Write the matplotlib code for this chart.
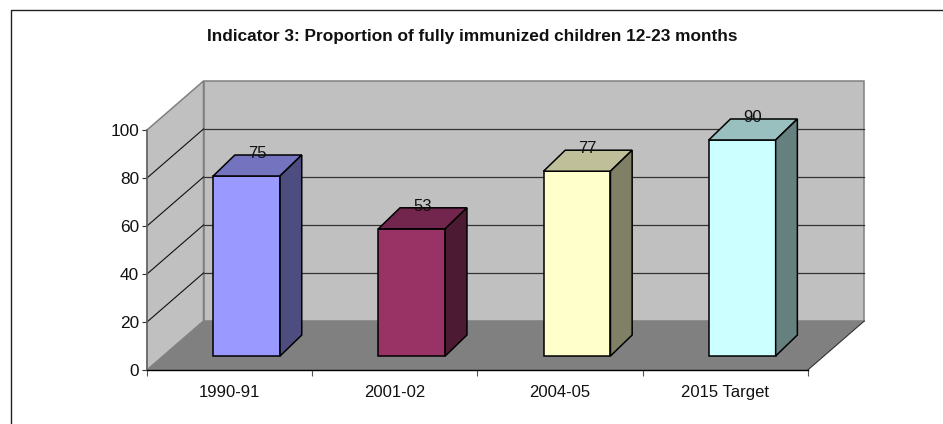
import matplotlib
matplotlib.use('Agg')
import matplotlib.pyplot as plt
from matplotlib.patches import Polygon

plt.rcParams['font.family'] = ['Liberation Sans', 'DejaVu Sans']

title = 'Indicator 3: Proportion of fully immunized children 12-23 months'
categories = ['1990-91', '2001-02', '2004-05', '2015 Target']
values = [75, 53, 77, 90]
yticks = [0, 20, 40, 60, 80, 100]

front_colors = ['#9999FF', '#993366', '#FFFFCC', '#CCFFFF']
top_colors = ['#7373BF', '#73264D', '#BFBF99', '#99BFBF']
side_colors = ['#4D4D80', '#4D1A33', '#808066', '#668080']

W, H = 943, 424
# fake 3d depth, in data units (x = categories, y = percent)
DEPTH_X = 56.5 / 165.2
DEPTH_Y = 49 / 2.4
BAR_W = 0.405
BAR_SHIFT_X = 17 / 165.2
BAR_SHIFT_Y = 14 / 2.4
BAR_DEPTH_X = 21.7 / 165.2
BAR_DEPTH_Y = 21 / 2.4

fig = plt.figure(figsize=(W / 100, H / 100), dpi=100)
fig.patch.set_facecolor('white')
# page frame: only top and left are inside the crop
fig.add_artist(plt.Line2D([1, 11 / W, 11 / W], [1 - 9.5 / H, 1 - 9.5 / H, 0], color='#222222', lw=1.0))
fig.text(472 / W, 1 - 36 / H, title, ha='center', va='center', fontsize=12.4, fontweight='bold', color='#111111')

ax = fig.add_axes([147 / W, 1 - 370 / H, 660.8 / W, 240 / H])
ax.set_xlim(0, len(categories))
ax.set_ylim(0, yticks[-1])
ax.patch.set_visible(False)
n = len(categories)
ymax = yticks[-1]

# walls and floor
wall_edge = '#808080'
ax.add_patch(Polygon([(DEPTH_X, DEPTH_Y), (n + DEPTH_X, DEPTH_Y), (n + DEPTH_X, ymax + DEPTH_Y), (DEPTH_X, ymax + DEPTH_Y)],
                     fc='#C0C0C0', ec=wall_edge, lw=1.1, clip_on=False, zorder=1))
ax.add_patch(Polygon([(0, 0), (DEPTH_X, DEPTH_Y), (DEPTH_X, ymax + DEPTH_Y), (0, ymax)],
                     fc='#C0C0C0', ec=wall_edge, lw=1.1, clip_on=False, zorder=1))
ax.add_patch(Polygon([(0, 0), (n, 0), (n + DEPTH_X, DEPTH_Y), (DEPTH_X, DEPTH_Y)],
                     fc='#808080', ec='none', clip_on=False, zorder=2))
ax.plot([n, n + DEPTH_X], [0, DEPTH_Y], color='#333333', lw=0.8, clip_on=False, zorder=2)

# gridlines on the walls, top one is just the wall edge
for v in yticks[1:-1]:
    ax.plot([0, DEPTH_X], [v, v + DEPTH_Y], color='#111111', lw=0.8, clip_on=False, zorder=3)
    ax.plot([DEPTH_X, n + DEPTH_X], [v + DEPTH_Y, v + DEPTH_Y], color='#333333', lw=0.9, clip_on=False, zorder=3)

# bars
for i, v in enumerate(values):
    x0 = i + 0.5 - BAR_W / 2 + BAR_SHIFT_X
    x1 = x0 + BAR_W
    y0 = BAR_SHIFT_Y
    y1 = y0 + v
    ax.add_patch(Polygon([(x0, y0), (x1, y0), (x1, y1), (x0, y1)], fc=front_colors[i], ec='black',
                         lw=1.1, joinstyle='miter', clip_on=False, zorder=4))
    ax.add_patch(Polygon([(x0, y1), (x1, y1), (x1 + BAR_DEPTH_X, y1 + BAR_DEPTH_Y), (x0 + BAR_DEPTH_X, y1 + BAR_DEPTH_Y)],
                         fc=top_colors[i], ec='black', lw=1.1, clip_on=False, zorder=4))
    ax.add_patch(Polygon([(x1, y0), (x1 + BAR_DEPTH_X, y0 + BAR_DEPTH_Y), (x1 + BAR_DEPTH_X, y1 + BAR_DEPTH_Y), (x1, y1)],
                         fc=side_colors[i], ec='black', lw=1.1, clip_on=False, zorder=4))
    ax.text((x0 + x1) / 2 + BAR_DEPTH_X / 2, y1 + BAR_DEPTH_Y + 0.6, str(v), ha='center', va='center',
            fontsize=12, color='#111111', zorder=5)

# axes, ticks
ax.spines['top'].set_visible(False)
ax.spines['right'].set_visible(False)
ax.spines['left'].set_color('#666666')
ax.spines['left'].set_linewidth(1.1)
ax.spines['bottom'].set_color('black')
ax.spines['bottom'].set_linewidth(1.0)
ax.spines['left'].set_zorder(6)
ax.spines['bottom'].set_zorder(6)
ax.set_yticks(yticks)
ax.set_xticks(range(n + 1))
ax.set_xticklabels([])
ax.set_xticks([i + 0.5 for i in range(n)], labels=categories, minor=True)
ax.tick_params(axis='x', which='major', length=4, width=0.8, color='#555555')
ax.tick_params(axis='x', which='minor', length=0, labelsize=12, pad=10.5, labelcolor='#111111')
ax.tick_params(axis='y', length=3.6, width=0.8, color='#333333', labelsize=12.4, pad=2.2, labelcolor='#111111')

fig.savefig('out.png', dpi=100)
